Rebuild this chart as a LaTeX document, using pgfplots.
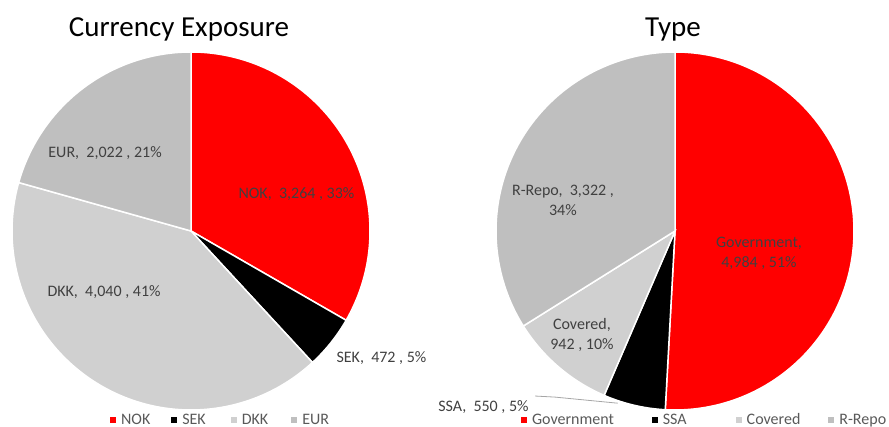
\documentclass[border=0pt]{standalone}
\usepackage{fontspec}
\setmainfont{Carlito}
\usepackage{pgfplots}
\pgfplotsset{compat=1.18}
\definecolor{pred}{HTML}{FF0000}
\definecolor{plight}{HTML}{D0D0D0}
\definecolor{pgray}{HTML}{BFBFBF}
\definecolor{ltxt}{HTML}{404040}
\definecolor{legtxt}{HTML}{595959}
\definecolor{leader}{HTML}{A6A6A6}

% data
\def\vNOK{3264}\def\vSEK{472}\def\vDKK{4040}\def\vEUR{2022}
\def\vGov{4984}\def\vSSA{550}\def\vCov{942}\def\vRR{3322}

\pgfmathsetmacro\Ltot{\vNOK+\vSEK+\vDKK+\vEUR}
\pgfmathsetmacro\La{90}
\pgfmathsetmacro\Lb{90-(\vNOK/\Ltot)*360}
\pgfmathsetmacro\Lc{90-((\vNOK+\vSEK)/\Ltot)*360}
\pgfmathsetmacro\Ld{90-((\vNOK+\vSEK+\vDKK)/\Ltot)*360}
\pgfmathsetmacro\Le{-270}

\pgfmathsetmacro\Rtot{\vGov+\vSSA+\vCov+\vRR}
\pgfmathsetmacro\Ra{90}
\pgfmathsetmacro\Rb{90-(\vGov/\Rtot)*360}
\pgfmathsetmacro\Rc{90-((\vGov+\vSSA)/\Rtot)*360}
\pgfmathsetmacro\Rd{90-((\vGov+\vSSA+\vCov)/\Rtot)*360}
\pgfmathsetmacro\Re{-270}

\tikzset{
 lbl/.style={font=\fontsize{16}{20}\selectfont, text=ltxt, align=center, inner sep=0pt},
 ttl/.style={font=\fontsize{29}{34}\selectfont, text=black, anchor=base, inner sep=0pt},
}
\pgfplotsset{
 pieaxis/.style={scale only axis, width=358pt, height=358pt,
   xmin=-1,xmax=1,ymin=-1,ymax=1, hide axis, clip=false, anchor=center,
   legend columns=4,
   legend image code/.code={\path[##1,draw=none] (0pt,-3pt) rectangle (6pt,3pt);},
   legend style={draw=none, fill=none, inner sep=0pt, outer sep=0pt, row sep=0pt,
     anchor=west, font=\fontsize{16}{19}\selectfont, text=legtxt,
     nodes={inner sep=0pt, anchor=west},
     /tikz/every odd column/.append style={column sep=5pt}},
 },
 wedge/.style={draw=white, line width=1.5pt, samples=120, variable=\t, mark=none},
}

\begin{document}
\begin{tikzpicture}
\useasboundingbox (0,0) rectangle (889pt,427pt);

\begin{axis}[pieaxis, at={(191pt,196pt)},
  legend style={at={(0.274,-0.028)},
   /tikz/column 2/.append style={column sep=21pt},
   /tikz/column 4/.append style={column sep=25pt},
   /tikz/column 6/.append style={column sep=23pt}}]
\addplot[wedge, fill=pred, domain=\Lb:\La] ({cos(\t)},{sin(\t)}) -- (0,0) -- cycle;
\addlegendentry{NOK}
\addplot[wedge, fill=black, domain=\Lc:\Lb] ({cos(\t)},{sin(\t)}) -- (0,0) -- cycle;
\addlegendentry{SEK}
\addplot[wedge, fill=plight, domain=\Ld:\Lc] ({cos(\t)},{sin(\t)}) -- (0,0) -- cycle;
\addlegendentry{DKK}
\addplot[wedge, fill=pgray, domain=\Le:\Ld] ({cos(\t)},{sin(\t)}) -- (0,0) -- cycle;
\addlegendentry{EUR}
\node[lbl] at (axis cs:0.589,0.207) {NOK,~ 3,264 , 33\%};
\node[lbl] at (axis cs:1.064,-0.709) {SEK,~ 472 , 5\%};
\node[lbl] at (axis cs:-0.486,-0.341) {DKK,~ 4,040 , 41\%};
\node[lbl] at (axis cs:-0.480,0.436) {EUR,~ 2,022 , 21\%};
\node[ttl] at (axis cs:-0.067,1.084) {Currency Exposure};
\end{axis}

\begin{axis}[pieaxis, at={(675pt,196pt)},
  legend style={at={(0.070,-0.028)},
   /tikz/column 2/.append style={column sep=38pt},
   /tikz/column 4/.append style={column sep=49pt},
   /tikz/column 6/.append style={column sep=28pt}}]
\addplot[wedge, fill=pred, domain=\Rb:\Ra] ({cos(\t)},{sin(\t)}) -- (0,0) -- cycle;
\addlegendentry{Government}
\addplot[wedge, fill=black, domain=\Rc:\Rb] ({cos(\t)},{sin(\t)}) -- (0,0) -- cycle;
\addlegendentry{SSA}
\addplot[wedge, fill=plight, domain=\Rd:\Rc] ({cos(\t)},{sin(\t)}) -- (0,0) -- cycle;
\addlegendentry{Covered}
\addplot[wedge, fill=pgray, domain=\Re:\Rd] ({cos(\t)},{sin(\t)}) -- (0,0) -- cycle;
\addlegendentry{R-Repo}
\addplot[forget plot, draw=leader, line width=0.8pt, mark=none]
  coordinates {(-0.782,-0.922) (-0.67,-0.928) (-0.32,-0.962)};
\node[lbl] at (axis cs:0.469,-0.123) {Government,\\4,984 , 51\%};
\node[lbl] at (axis cs:-0.626,0.173) {R-Repo,~ 3,322 ,\\34\%};
\node[lbl] at (axis cs:-0.520,-0.581) {Covered,\\942 , 10\%};
\node[lbl] at (axis cs:-1.070,-0.983) {SSA,~ 550 , 5\%};
\node[ttl] at (axis cs:-0.011,1.084) {Type};
\end{axis}
\end{tikzpicture}
\end{document}
